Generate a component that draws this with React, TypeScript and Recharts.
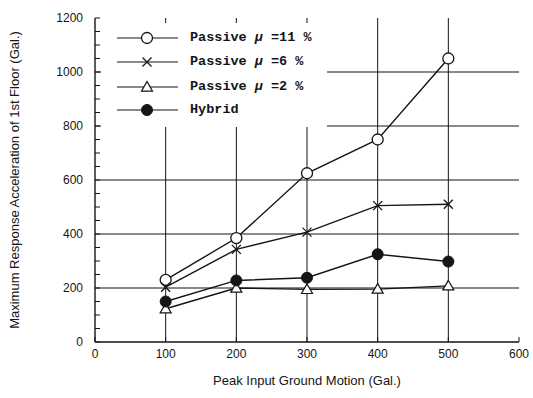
import React from "react";
import {
  LineChart,
  Line,
  XAxis,
  YAxis,
  CartesianGrid,
} from "recharts";

// Peak input ground motion (Gal.)
const groundMotion = [100, 200, 300, 400, 500];

// Maximum response acceleration of 1st floor (Gal.)
const passiveMu11 = [230, 385, 625, 750, 1050];
const passiveMu6 = [203, 343, 407, 505, 510];
const passiveMu2 = [123, 200, 195, 196, 208];
const hybrid = [150, 228, 238, 325, 298];

const xTicks = [0, 100, 200, 300, 400, 500, 600];
const xGrid = [100, 200, 300, 400, 500];
const yTicks = [
  0, 50, 100, 150, 200, 250, 300, 350, 400, 450, 500, 550, 600, 650, 700, 750,
  800, 850, 900, 950, 1000, 1050, 1100, 1150, 1200,
];
const yLabelled = [0, 200, 400, 600, 800, 1000, 1200];
const yGrid = [200, 400, 600, 800, 1000];

const data = groundMotion.map((x, i) => ({
  x,
  mu11: passiveMu11[i],
  mu6: passiveMu6[i],
  mu2: passiveMu2[i],
  hybrid: hybrid[i],
}));

const INK = "#151515";
const SANS = "'Liberation Sans', Arial, Helvetica, sans-serif";
const MONO = "'Liberation Mono', 'DejaVu Sans Mono', monospace";

type DotProps = { cx?: number; cy?: number };

function OpenCircle({ cx, cy }: DotProps) {
  if (cx == null || cy == null) return null;
  return <circle cx={cx} cy={cy} r={5.5} fill="#fff" stroke={INK} strokeWidth={1.3} />;
}

function Cross({ cx, cy }: DotProps) {
  if (cx == null || cy == null) return null;
  const s = 4.5;
  return (
    <g stroke={INK} strokeWidth={1.3}>
      <line x1={cx - s} y1={cy - s} x2={cx + s} y2={cy + s} />
      <line x1={cx - s} y1={cy + s} x2={cx + s} y2={cy - s} />
    </g>
  );
}

function OpenTriangle({ cx, cy }: DotProps) {
  if (cx == null || cy == null) return null;
  const s = 5.5;
  return (
    <polygon
      points={`${cx},${cy - s} ${cx - s},${cy + s * 0.75} ${cx + s},${cy + s * 0.75}`}
      fill="#fff"
      stroke={INK}
      strokeWidth={1.2}
    />
  );
}

function FilledCircle({ cx, cy }: DotProps) {
  if (cx == null || cy == null) return null;
  return <circle cx={cx} cy={cy} r={5.5} fill={INK} stroke={INK} />;
}

const legendItems = [
  { label: "11", Marker: OpenCircle },
  { label: "6", Marker: Cross },
  { label: "2", Marker: OpenTriangle },
  { label: null, Marker: FilledCircle },
];

function ChartLegend() {
  const rowY = [15, 39, 64, 87];
  return (
    <div
      style={{
        position: "absolute",
        left: 101,
        top: 23,
        width: 226,
        height: 104,
        background: "#fff",
      }}
    >
      <svg width={86} height={104} style={{ position: "absolute", left: 0, top: 0 }}>
        {legendItems.map(({ Marker }, i) => (
          <g key={i}>
            <line x1={16} x2={77} y1={rowY[i]} y2={rowY[i]} stroke={INK} strokeWidth={1.2} />
            <Marker cx={46} cy={rowY[i]} />
          </g>
        ))}
      </svg>
      {legendItems.map(({ label }, i) => (
        <div
          key={i}
          style={{
            position: "absolute",
            left: 89,
            top: rowY[i] - 9,
            height: 18,
            lineHeight: "18px",
            fontFamily: MONO,
            fontWeight: "bold",
            fontSize: 13.5,
            color: INK,
            whiteSpace: "pre",
          }}
        >
          {label ? (
            <>
              {"Passive "}
              <span style={{ fontStyle: "italic" }}>μ</span>
              {` =${label} %`}
            </>
          ) : (
            "Hybrid"
          )}
        </div>
      ))}
    </div>
  );
}

// draws the tick line only, no text
const NoLabel = () => <g />;

export default function App() {
  const tickStyle = { fontSize: 12, fill: INK, fontFamily: SANS };
  const axisLine = { stroke: INK, strokeWidth: 1.4 };
  return (
    <div style={{ position: "absolute", left: 0, top: 0, width: 533, height: 398, background: "#fff" }}>
      <LineChart
        width={533}
        height={398}
        data={data}
        margin={{ top: 18, right: 14, left: 0, bottom: 0 }}
      >
        <CartesianGrid
          horizontalValues={yGrid}
          verticalValues={xGrid}
          stroke={INK}
          strokeWidth={1}
        />
        <XAxis
          dataKey="x"
          type="number"
          domain={[0, 600]}
          ticks={xTicks}
          height={56}
          tickSize={-5}
          tickMargin={12}
          tick={tickStyle}
          axisLine={axisLine}
          tickLine={{ stroke: INK }}
          label={{
            value: "Peak Input Ground Motion (Gal.)",
            position: "insideBottom",
            offset: 13,
            style: { fontSize: 13, fill: INK, fontFamily: SANS },
          }}
        />
        <XAxis
          xAxisId="top"
          orientation="top"
          type="number"
          domain={[0, 600]}
          ticks={xTicks}
          height={0}
          mirror
          tick={NoLabel}
          tickSize={5}
          axisLine={axisLine}
          tickLine={{ stroke: INK }}
        />
        <YAxis
          type="number"
          domain={[0, 1200]}
          ticks={yTicks}
          width={95}
          tickSize={-5}
          tickMargin={17}
          tick={tickStyle}
          tickFormatter={(v: number) => (yLabelled.includes(v) ? String(v) : "")}
          axisLine={axisLine}
          tickLine={{ stroke: INK }}
          label={{
            value: "Maximum Response Acceleration of 1st Floor (Gal.)",
            angle: -90,
            position: "insideLeft",
            offset: 14,
            style: { fontSize: 13, fill: INK, fontFamily: SANS, textAnchor: "middle" },
          }}
        />
        <YAxis
          yAxisId="right"
          orientation="right"
          type="number"
          domain={[0, 1200]}
          ticks={yTicks}
          width={0}
          mirror
          tick={NoLabel}
          tickSize={5}
          axisLine={axisLine}
          tickLine={{ stroke: INK }}
        />
        <Line
          dataKey="mu11"
          stroke={INK}
          strokeWidth={1.4}
          dot={<OpenCircle />}
          isAnimationActive={false}
        />
        <Line
          dataKey="mu6"
          stroke={INK}
          strokeWidth={1.4}
          dot={<Cross />}
          isAnimationActive={false}
        />
        <Line
          dataKey="mu2"
          stroke={INK}
          strokeWidth={1.4}
          dot={<OpenTriangle />}
          isAnimationActive={false}
        />
        <Line
          dataKey="hybrid"
          stroke={INK}
          strokeWidth={1.4}
          dot={<FilledCircle />}
          isAnimationActive={false}
        />
      </LineChart>
      <ChartLegend />
    </div>
  );
}
